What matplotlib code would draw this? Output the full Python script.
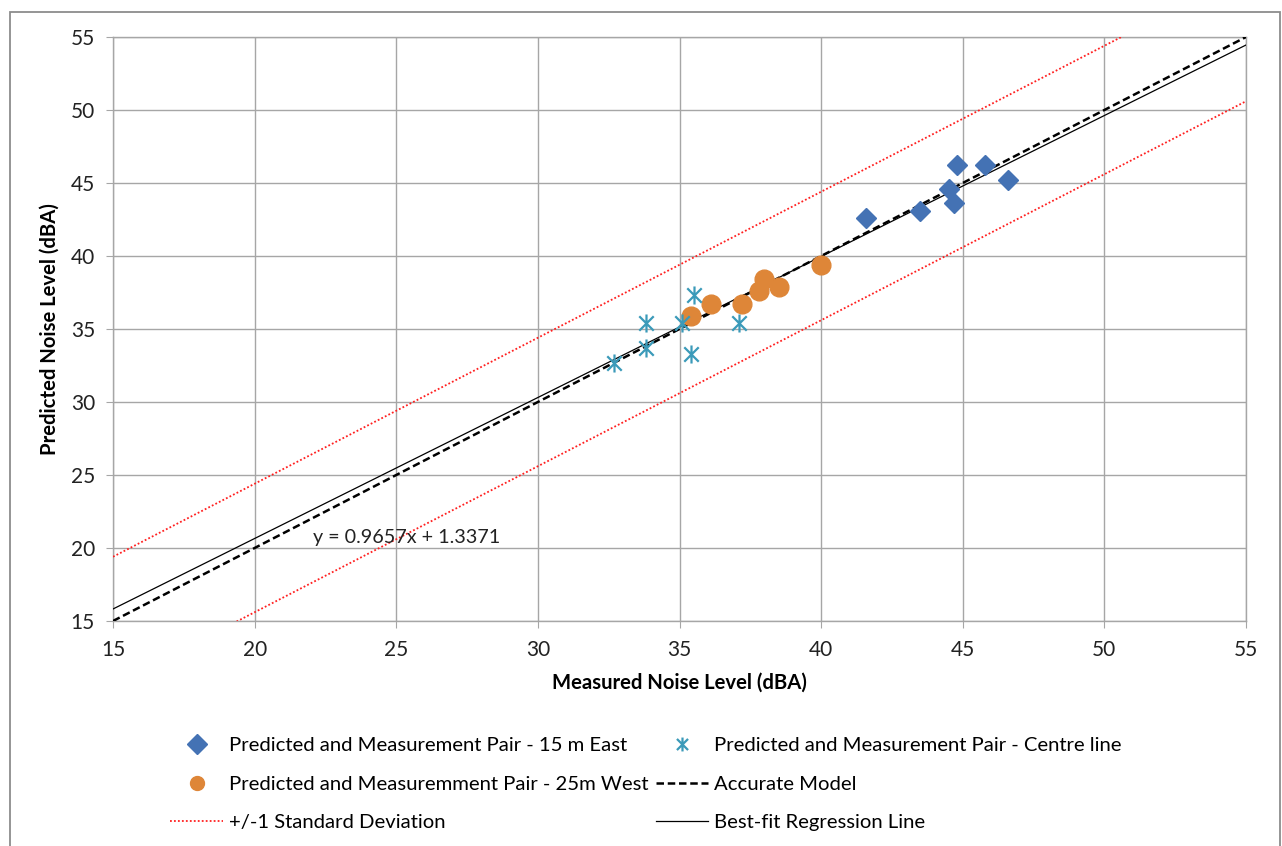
import matplotlib
matplotlib.use("Agg")
import matplotlib.pyplot as plt
import numpy as np
from matplotlib.path import Path
from matplotlib.patches import Rectangle

plt.rcParams['font.family'] = ['Lato', 'DejaVu Sans']

# Data
east_x = [41.6, 43.5, 44.5, 44.7, 44.8, 45.8, 46.6]
east_y = [42.6, 43.1, 44.6, 43.6, 46.2, 46.2, 45.2]
west_x = [35.4, 36.1, 37.2, 37.8, 38.0, 38.5, 40.0]
west_y = [35.9, 36.7, 36.7, 37.6, 38.4, 37.9, 39.4]
centre_x = [32.7, 33.8, 33.8, 35.1, 35.4, 35.5, 37.1]
centre_y = [32.7, 35.4, 33.7, 35.4, 33.3, 37.3, 35.4]
slope, intercept = 0.9657, 1.3371
sd_offset = 4.4
axis_min, axis_max = 15, 55
ticks = [15, 20, 25, 30, 35, 40, 45, 50, 55]

fig = plt.figure(figsize=(12.82, 8.46), dpi=100)
ax = fig.add_axes([113/1282, 1-621/846, (1246-113)/1282, (621-37)/846])

# outer chart border
fig.patches.append(Rectangle((10/1282, -0.05), (1280-10)/1282, 1.05-12/846,
                             transform=fig.transFigure, fill=False,
                             edgecolor='#8c8c8c', linewidth=1.3))

xs = np.array([axis_min, axis_max], dtype=float)

# star marker (asterisk with 6 arms)
star = Path([(-1, -1), (1, 1), (-1, 1), (1, -1), (0, -1.25), (0, 1.25)],
            [Path.MOVETO, Path.LINETO, Path.MOVETO, Path.LINETO, Path.MOVETO, Path.LINETO])

h_east, = ax.plot(east_x, east_y, linestyle='none', marker='D', markersize=10,
                  color='#4472b4', markeredgecolor='#4472b4', zorder=5,
                  label='Predicted and Measurement Pair - 15 m East')
h_west, = ax.plot(west_x, west_y, linestyle='none', marker='o', markersize=13.5,
                  color='#de8638', markeredgecolor='#de8638', zorder=5,
                  label='Predicted and Measuremment Pair - 25m West')
h_sd, = ax.plot(xs, xs + sd_offset, color='#ff2020', linestyle=(0, (1, 1.2)),
                linewidth=1.3, zorder=3, label='+/-1 Standard Deviation')
ax.plot(xs, xs - sd_offset, color='#ff2020', linestyle=(0, (1, 1.2)),
        linewidth=1.3, zorder=3)
h_centre, = ax.plot(centre_x, centre_y, linestyle='none', marker=star, markersize=13,
                    color='#3b9ab9', markeredgecolor='#3b9ab9', markeredgewidth=1.6,
                    zorder=5, label='Predicted and Measurement Pair - Centre line')
h_acc, = ax.plot(xs, xs, color='black', linestyle=(0, (3, 1.5)), linewidth=1.8,
                 zorder=4, label='Accurate Model')
h_fit, = ax.plot(xs, slope * xs + intercept, color='black', linewidth=0.9,
                 zorder=4, label='Best-fit Regression Line')

ax.text(22.05, 20.7, 'y = 0.9657x + 1.3371', fontsize=14.2, va='center', ha='left',
        color='#222222')

ax.set_xlim(axis_min, axis_max)
ax.set_ylim(axis_min, axis_max)
ax.set_xticks(ticks)
ax.set_yticks(ticks)
ax.grid(True, color='#a6a6a6', linewidth=1.0)
ax.set_axisbelow(True)
for s in ax.spines.values():
    s.set_color('#a6a6a6')
    s.set_linewidth(1.0)
ax.tick_params(axis='both', length=5, color='#a6a6a6', labelsize=15,
               labelcolor='#222222')
ax.tick_params(axis='x', pad=9)
ax.tick_params(axis='y', pad=8)
ax.set_xlabel('Measured Noise Level (dBA)', fontsize=14.6, fontweight='bold', labelpad=9)
ax.set_ylabel('Predicted Noise Level (dBA)', fontsize=14.6, fontweight='bold', labelpad=8)

handles = [h_east, h_west, h_sd, h_centre, h_acc, h_fit]
leg = fig.legend(handles=handles, ncol=2, loc='upper left',
                 bbox_to_anchor=(160/1282, 1-727/846), frameon=False, borderpad=0,
                 fontsize=14.6, handlelength=2.6, handletextpad=0.3,
                 columnspacing=0.35, labelspacing=1.05)
for lh in leg.legend_handles:
    try:
        lh.set_markersize(10)
    except Exception:
        pass

fig.savefig('out.png', dpi=100)
